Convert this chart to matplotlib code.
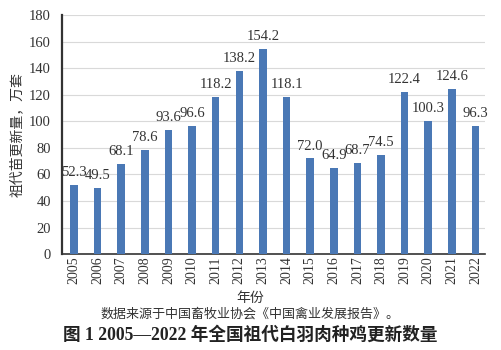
import numpy as np
import matplotlib.pyplot as plt

years = [str(y) for y in range(2005, 2023)]
valores = [52.3, 49.5, 68.1, 78.6, 93.6, 96.6, 118.2, 138.2, 154.2, 118.1,
           72.0, 64.9, 68.7, 74.5, 122.4, 100.3, 124.6, 96.3]

plt.rcParams['font.family'] = ['Liberation Serif', 'Noto Sans CJK SC']

fig = plt.figure(figsize=(5.01, 3.5), dpi=100)
ax = fig.add_axes([0.124, 0.274, 0.844, 0.683])

x = np.arange(len(years))
ax.bar(x, valores, width=0.32, color="#4a78b5", zorder=3)
for xi, v in zip(x, valores):
    ax.text(xi, v + 4.5, f"{v:.1f}", ha="center", va="bottom", fontsize=10.5, color="#333333")

ax.set_ylim(0, 180)
ax.set_yticks(range(0, 181, 20))
ax.set_xlim(-0.5, 17.4)
ax.set_xticks(x)
ax.set_xticklabels(years, rotation=90, fontsize=10, color="#333333")
ax.tick_params(axis="y", labelsize=10.5, colors="#333333", length=0, pad=8)
ax.tick_params(axis="x", length=0, pad=1.5)
ax.grid(axis="y", color="#d9d9d9", linewidth=0.8, zorder=0)

for s in ["top", "right"]:
    ax.spines[s].set_visible(False)
ax.spines["left"].set_linewidth(1.6)
ax.spines["left"].set_color("#333333")
ax.spines["bottom"].set_linewidth(1.2)
ax.spines["bottom"].set_color("#333333")

ax.set_ylabel("祖代苗更新量，万套", fontsize=10, color="#333333", labelpad=4)
fig.text(0.5, 0.147, "年份", ha="center", va="center", fontsize=10, color="#333333")
fig.text(0.5, 0.103, "数据来源于中国畜牧业协会《中国禽业发展报告》。", ha="center", va="center",
         fontsize=9.4, color="#333333")
fig.text(0.5, 0.043, "图 1 2005—2022 年全国祖代白羽肉种鸡更新数量", ha="center", va="center",
         fontsize=12.7, fontweight="bold", color="#222222")

fig.savefig("out.png", dpi=100)
